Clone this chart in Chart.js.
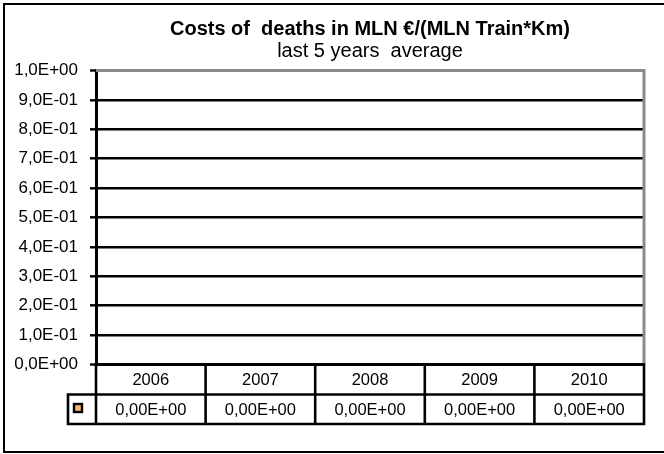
<!DOCTYPE html>
<html>
<head>
<meta charset="utf-8">
<script src="https://cdn.jsdelivr.net/npm/chart.js@4"></script>
<style>
  html, body { margin: 0; padding: 0; background: #fff; }
  #wrap { width: 664px; height: 454px; }
</style>
</head>
<body>
<div id="wrap"><canvas id="costChart" width="664" height="454"></canvas></div>
<script>
/* ===== Data ===== */
const years = ["2006", "2007", "2008", "2009", "2010"];
const deathCosts = [0, 0, 0, 0, 0];
const yMin = 0;
const yMax = 1;
const yStep = 0.1;

const FONT = "Arial, 'Liberation Sans', sans-serif";
const seriesColor = "#f7b77c";

// Excel style scientific notation: 1,0E-01
function sci(v, digits) {
  const parts = v.toExponential(digits).split("e");
  const e = parseInt(parts[1]);
  return parts[0].replace(".", ",") + "E" + (e < 0 ? "-" : "+") + String(Math.abs(e)).padStart(2, "0");
}

/* ===== Frame + data table plugins ===== */
const framePlugin = {
  id: "frame",
  beforeDraw(chart) {
    const ctx = chart.ctx;
    ctx.save();
    ctx.fillStyle = "#fff";
    ctx.fillRect(0, 0, chart.width, chart.height);
    ctx.strokeStyle = "#000";
    ctx.lineWidth = 2;
    ctx.beginPath();
    ctx.moveTo(chart.width + 2, 4);
    ctx.lineTo(4, 4);
    ctx.lineTo(4, 452);
    ctx.lineTo(chart.width + 2, 452);
    ctx.stroke();
    ctx.restore();
  },
  afterDatasetsDraw(chart) {
    // gray plot border on top and right
    const a = chart.chartArea;
    const ctx = chart.ctx;
    ctx.save();
    ctx.strokeStyle = "#8a8a8a";
    ctx.lineWidth = 3;
    ctx.beginPath();
    ctx.moveTo(a.left, a.top);
    ctx.lineTo(a.right, a.top);
    ctx.lineTo(a.right, a.bottom);
    ctx.stroke();
    ctx.restore();
  }
};

const tablePlugin = {
  id: "dataTable",
  afterDraw(chart) {
    const ctx = chart.ctx;
    const a = chart.chartArea;
    const x = chart.scales.x;
    const colW = a.width / years.length;
    const rowH = 29.5;
    const top = a.bottom;
    const mid = top + rowH + 0.5;
    const bottom = mid + rowH;
    const keyLeft = 68;

    ctx.save();
    ctx.strokeStyle = "#000";
    ctx.lineWidth = 2.6;
    ctx.lineCap = "square";
    ctx.beginPath();
    ctx.moveTo(a.left, top);
    ctx.lineTo(a.right, top);
    ctx.moveTo(keyLeft, mid);
    ctx.lineTo(a.right, mid);
    ctx.moveTo(keyLeft, bottom);
    ctx.lineTo(a.right, bottom);
    ctx.moveTo(keyLeft, mid);
    ctx.lineTo(keyLeft, bottom);
    for (let i = 0; i <= years.length; i++) {
      const cx = a.left + i * colW;
      ctx.moveTo(cx, top);
      ctx.lineTo(cx, bottom);
    }
    ctx.stroke();

    // cell text
    ctx.fillStyle = "#000";
    ctx.font = "16.5px " + FONT;
    ctx.textAlign = "center";
    ctx.textBaseline = "middle";
    years.forEach((yr, i) => {
      const cx = x.getPixelForValue(i);
      ctx.fillText(yr, cx, (top + mid) / 2 + 1);
      ctx.fillText(sci(deathCosts[i], 2), cx, (mid + bottom) / 2 + 1);
    });

    // legend key
    const ds = chart.data.datasets[0];
    ctx.fillStyle = ds.backgroundColor;
    ctx.lineWidth = 2.4;
    ctx.fillRect(74, 404, 8, 8);
    ctx.strokeRect(74, 404, 8, 8);
    ctx.restore();
  }
};

/* ===== Chart ===== */
const ctx = document.getElementById("costChart").getContext("2d");
new Chart(ctx, {
  type: "bar",
  data: {
    labels: years,
    datasets: [
      {
        label: "Costs of deaths",
        data: deathCosts,
        backgroundColor: seriesColor,
        borderWidth: 0
      }
    ]
  },
  options: {
    responsive: false,
    animation: false,
    devicePixelRatio: 1,
    layout: { padding: { left: 0, right: 20, top: 0, bottom: 89.5 } },
    plugins: {
      legend: { display: false },
      tooltip: { enabled: false },
      title: {
        display: true,
        fullSize: false,
        text: "Costs of  deaths in MLN €/(MLN Train*Km)",
        color: "#000",
        font: { family: FONT, size: 20, weight: "bold", lineHeight: 1.2 },
        padding: { top: 17.5, bottom: 0 }
      },
      subtitle: {
        display: true,
        fullSize: false,
        text: "last 5 years  average",
        color: "#000",
        font: { family: FONT, size: 20, weight: "normal", lineHeight: 1.0 },
        padding: { top: 0, bottom: 9 }
      }
    },
    scales: {
      x: { display: false },
      y: {
        min: yMin,
        max: yMax,
        afterFit(scale) { scale.width = 96; },
        border: { display: true, color: "#000", width: 3 },
        grid: {
          color: c => (c.index === 10 ? "#8a8a8a" : "#000"),
          lineWidth: c => (c.index === 0 || c.index === 10 ? 3 : 2.6),
          tickColor: "#000",
          tickWidth: 2.4,
          tickLength: 6
        },
        ticks: {
          stepSize: yStep,
          color: "#000",
          padding: 12,
          font: { family: FONT, size: 17 },
          callback: v => sci(v, 1)
        }
      }
    }
  },
  plugins: [framePlugin, tablePlugin]
});
</script>
</body>
</html>
